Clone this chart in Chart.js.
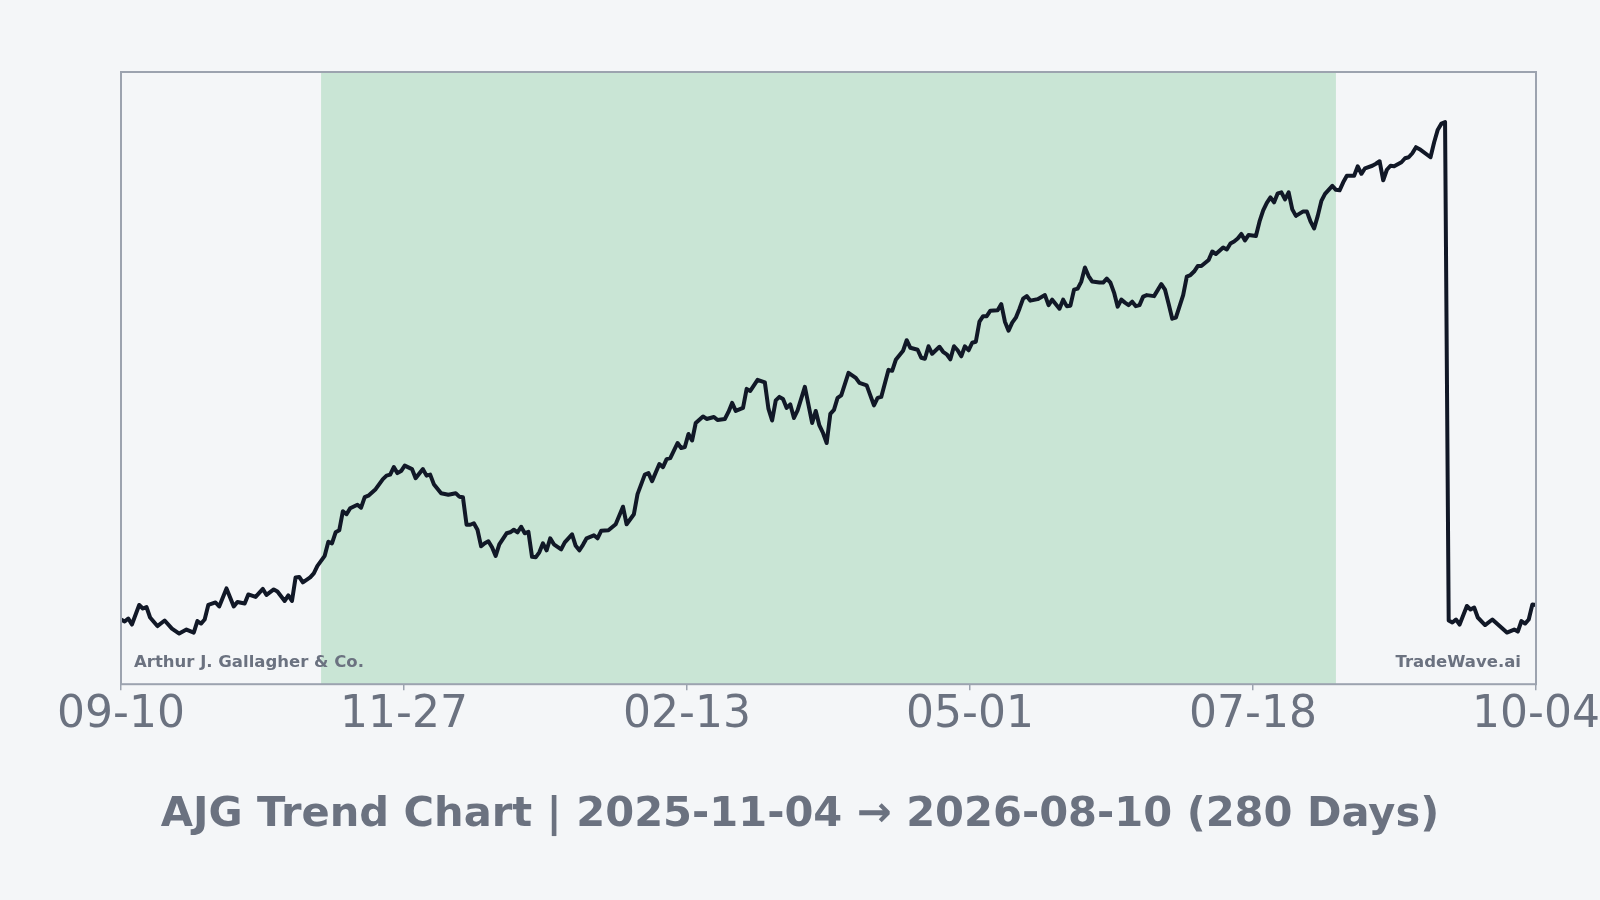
<!DOCTYPE html>
<html lang="en">
<head>
    <meta charset="UTF-8">
    <title>AJG Trend Chart</title>
    <script src="https://cdn.jsdelivr.net/npm/chart.js"></script>
    <style>
        body {
            margin: 0;
            background-color: #f4f6f8;
            font-family: 'DejaVu Sans', sans-serif;
        }
        .chart-box {
            width: 1600px;
            height: 900px;
        }
    </style>
</head>
<body>
    <div class="chart-box">
        <canvas id="trendChart" width="1600" height="900"></canvas>
    </div>

    <script>
        // days counted from 2025-09-10
        const totalDays = 389;
        const tickLabels = ['09-10', '11-27', '02-13', '05-01', '07-18', '10-04'];
        const shadeStart = 55;   // 2025-11-04
        const shadeEnd = 334;    // 2026-08-10
        const chartTitle = 'AJG Trend Chart | 2025-11-04 → 2026-08-10 (280 Days)';

        const days = [
            0, 1, 2, 3, 5, 6, 7, 8, 10, 12, 14, 16, 18, 20, 21, 22, 23, 24, 26, 27,
            29, 31, 32, 34, 35, 37, 39, 40, 42, 43, 45, 46, 47, 48, 49, 50, 52, 53, 54, 56,
            57, 58, 59, 60, 61, 62, 63, 65, 66, 67, 68, 70, 72, 73, 74, 75, 76, 77, 78, 80,
            81, 83, 84, 85, 86, 88, 90, 92, 93, 94, 95, 96, 97, 98, 99, 100, 101, 102, 103, 104,
            106, 107, 108, 109, 110, 111, 112, 113, 114, 115, 116, 117, 118, 119, 121, 122, 124, 125, 126, 127,
            128, 130, 131, 132, 134, 136, 138, 139, 141, 142, 144, 145, 146, 148, 149, 150, 151, 153, 154, 155,
            156, 157, 158, 160, 161, 163, 164, 166, 167, 168, 169, 171, 172, 173, 175, 177, 178, 179, 180, 181,
            182, 183, 184, 185, 186, 188, 190, 191, 192, 193, 194, 195, 196, 197, 198, 200, 202, 203, 205, 207,
            208, 209, 211, 212, 213, 215, 216, 217, 219, 220, 221, 222, 223, 225, 226, 227, 228, 229, 230, 231,
            232, 233, 234, 235, 236, 237, 238, 239, 241, 242, 243, 244, 245, 246, 247, 248, 249, 250, 252, 254,
            255, 256, 258, 259, 260, 261, 262, 263, 264, 265, 266, 267, 269, 270, 271, 272, 273, 274, 275, 276,
            277, 278, 279, 280, 281, 282, 284, 285, 286, 287, 288, 289, 290, 292, 293, 294, 295, 296, 297, 299,
            300, 301, 303, 304, 305, 306, 307, 308, 309, 310, 312, 313, 314, 315, 316, 317, 318, 319, 320, 321,
            322, 323, 325, 326, 327, 328, 329, 330, 331, 333, 334, 335, 336, 337, 339, 340, 341, 342, 344, 345,
            346, 347, 348, 349, 350, 352, 353, 354, 355, 356, 357, 360, 361, 362, 363, 364, 365, 366, 367, 368,
            370, 371, 372, 373, 375, 377, 379, 381, 383, 384, 385, 386, 387, 388, 389
        ];

        const prices = [
            212.9, 212.5, 213.1, 211.9, 215.8, 215.1, 215.4, 213.3, 211.6, 212.7, 211.1, 210.1, 210.9, 210.3, 212.6, 212.1, 212.9, 215.8, 216.3, 215.5,
            219.1, 215.5, 216.4, 216.1, 217.9, 217.4, 219.0, 217.8, 218.9, 218.5, 216.6, 217.7, 216.6, 221.3, 221.4, 220.3, 221.3, 222.1, 223.6, 225.6,
            228.4, 228.1, 230.3, 230.7, 234.5, 233.9, 235.1, 235.8, 235.2, 237.3, 237.6, 238.9, 240.9, 241.6, 241.8, 243.3, 242.1, 242.5, 243.6, 242.9,
            241.1, 242.9, 241.6, 241.8, 239.9, 238.1, 237.8, 238.1, 237.4, 237.3, 231.8, 231.8, 232.1, 230.8, 227.5, 228.1, 228.5, 227.3, 225.6, 227.9,
            230.1, 230.3, 230.8, 230.3, 231.4, 230.1, 230.4, 225.4, 225.3, 226.3, 228.1, 226.7, 229.1, 227.9, 226.9, 228.3, 229.9, 227.6, 226.7, 227.8,
            229.1, 229.7, 229.1, 230.6, 230.7, 231.9, 235.4, 231.9, 233.9, 237.9, 241.8, 242.1, 240.5, 243.9, 243.3, 244.9, 245.1, 248.1, 247.1, 247.3,
            249.9, 248.6, 252.1, 253.4, 252.9, 253.3, 252.7, 252.9, 254.3, 256.1, 254.5, 255.1, 258.9, 258.5, 260.7, 260.2, 254.9, 252.6, 256.6, 257.3,
            256.9, 255.1, 255.8, 253.1, 254.6, 259.3, 252.1, 254.5, 251.6, 250.1, 248.1, 253.9, 254.7, 257.1, 257.6, 262.1, 261.1, 260.1, 259.6, 255.6,
            257.1, 257.3, 262.7, 262.5, 264.7, 266.5, 268.6, 267.1, 266.7, 265.1, 264.9, 267.4, 265.9, 267.3, 266.3, 265.8, 264.8, 267.4, 266.6, 265.4,
            267.4, 266.6, 268.1, 268.3, 272.3, 273.4, 273.4, 274.5, 274.6, 275.8, 272.3, 270.5, 272.1, 273.1, 274.9, 276.9, 277.4, 276.5, 276.8, 277.6,
            275.6, 276.7, 274.9, 276.7, 275.4, 275.5, 278.7, 278.9, 280.3, 283.1, 281.4, 280.3, 280.1, 280.1, 280.9, 280.1, 278.1, 275.3, 276.7, 276.1,
            275.6, 276.3, 275.4, 275.6, 277.3, 277.6, 277.4, 278.6, 279.8, 278.7, 275.9, 272.9, 273.1, 277.6, 281.3, 281.6, 282.3, 283.4, 283.4, 284.6,
            286.3, 285.8, 287.1, 286.7, 287.9, 288.3, 288.9, 289.8, 288.5, 289.6, 289.4, 292.3, 294.5, 296.0, 297.1, 296.1, 297.9, 298.1, 296.7, 298.1,
            294.7, 293.4, 294.3, 294.3, 292.3, 290.9, 293.4, 296.4, 297.8, 299.4, 298.6, 298.5, 300.1, 301.4, 301.4, 303.3, 301.8, 302.9, 303.4, 303.8,
            304.3, 300.5, 302.6, 303.4, 303.3, 304.1, 304.9, 305.1, 305.9, 307.1, 306.7, 305.1, 308.1, 310.6, 311.8, 312.1, 212.7, 212.3, 212.9, 211.9,
            215.6, 214.9, 215.3, 213.3, 211.8, 212.9, 211.6, 210.3, 210.9, 210.5, 212.6, 212.1, 212.9, 215.9, 215.8
        ];

        const shadePlugin = {
            id: 'shadePlugin',
            beforeDatasetsDraw(chart) {
                const { ctx, chartArea, scales } = chart;
                const x1 = scales.x.getPixelForValue(shadeStart);
                const x2 = scales.x.getPixelForValue(shadeEnd);
                ctx.save();
                ctx.fillStyle = '#c9e5d5';
                ctx.fillRect(x1, chartArea.top, x2 - x1, chartArea.bottom - chartArea.top);
                ctx.restore();
            }
        };

        const framePlugin = {
            id: 'framePlugin',
            afterDatasetsDraw(chart) {
                const { ctx, chartArea } = chart;
                ctx.save();
                ctx.strokeStyle = '#9ca3af';
                ctx.lineWidth = 2;
                ctx.strokeRect(chartArea.left, chartArea.top,
                    chartArea.right - chartArea.left, chartArea.bottom - chartArea.top);

                // watermarks
                ctx.fillStyle = '#6b7280';
                ctx.font = 'bold 16.5px "DejaVu Sans"';
                ctx.textBaseline = 'middle';
                ctx.textAlign = 'left';
                ctx.fillText('Arthur J. Gallagher & Co.', chartArea.left + 13, chartArea.bottom - 21);
                ctx.textAlign = 'right';
                ctx.fillText('TradeWave.ai', chartArea.right - 15, chartArea.bottom - 21);

                // title centred on the whole canvas
                ctx.font = 'bold 41.6px "DejaVu Sans"';
                ctx.textAlign = 'center';
                ctx.fillText(chartTitle, chart.width / 2, 815);
                ctx.restore();
            }
        };

        function createTrendChart() {
            const ctx = document.getElementById('trendChart').getContext('2d');
            new Chart(ctx, {
                type: 'line',
                data: {
                    datasets: [{
                        data: days.map((d, i) => ({ x: d, y: prices[i] })),
                        borderColor: '#111827',
                        borderWidth: 4,
                        borderJoinStyle: 'round',
                        borderCapStyle: 'round',
                        pointRadius: 0,
                        tension: 0,
                        fill: false
                    }]
                },
                options: {
                    responsive: false,
                    animation: false,
                    devicePixelRatio: 1,
                    layout: {
                        padding: { top: 72, left: 121, right: 64, bottom: 159 }
                    },
                    plugins: {
                        legend: { display: false },
                        tooltip: { enabled: false },
                        title: { display: false }
                    },
                    scales: {
                        x: {
                            type: 'linear',
                            min: 0,
                            max: totalDays,
                            afterBuildTicks: function(scale) {
                                scale.ticks = tickLabels.map((_, i) => ({ value: i * totalDays / (tickLabels.length - 1) }));
                            },
                            afterFit: function(scale) {
                                scale.paddingLeft = 0;
                                scale.paddingRight = 0;
                            },
                            border: { display: false },
                            grid: {
                                drawOnChartArea: false,
                                drawTicks: true,
                                tickLength: 6,
                                color: '#9ca3af',
                                lineWidth: 1.5
                            },
                            ticks: {
                                autoSkip: false,
                                maxRotation: 0,
                                padding: -1,
                                color: '#6b7280',
                                font: { family: 'DejaVu Sans', size: 44 },
                                callback: function(value, index) {
                                    return tickLabels[index];
                                }
                            }
                        },
                        y: {
                            display: false,
                            min: 200,
                            max: 322.1
                        }
                    }
                },
                plugins: [shadePlugin, framePlugin]
            });
        }

        document.addEventListener('DOMContentLoaded', function() {
            createTrendChart();
        });
    </script>
</body>
</html>
